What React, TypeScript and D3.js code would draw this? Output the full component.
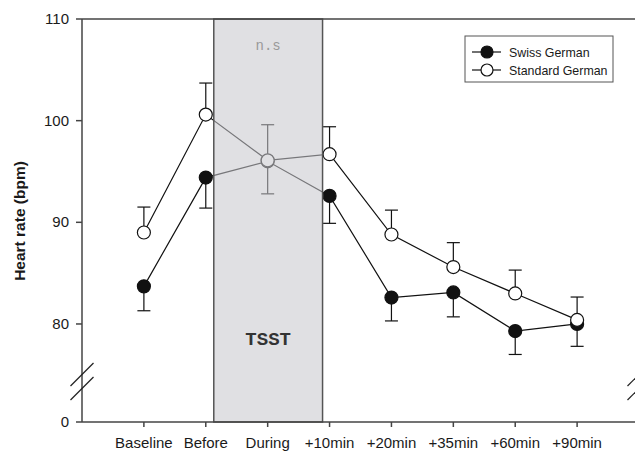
import * as d3 from 'd3'

const categories = ['Baseline', 'Before', 'During', '+10min', '+20min', '+35min', '+60min', '+90min']
const swissGerman = [83.7, 94.4, 96.0, 92.6, 82.6, 83.1, 79.3, 80.0]
const swissErr = [2.4, 3.0, 3.2, 2.7, 2.3, 2.4, 2.3, 2.2]
const standardGerman = [89.0, 100.6, 96.1, 96.7, 88.8, 85.6, 83.0, 80.4]
const standardErr = [2.5, 3.1, 3.5, 2.7, 2.4, 2.4, 2.3, 2.25]
const yTicks = [0, 80, 90, 100, 110]
const seriesNames = ['Swiss German', 'Standard German']

const W = 635
const H = 452
const left = 82
const top = 19
const bottom = 422

export default function App() {
  const x = d3.scalePoint<string>().domain(categories).range([left, 639]).padding(1)
  // broken axis: 0 sits at the bottom, 75..110 linear above the break
  const y = d3.scaleLinear().domain([0, 75, 110]).range([bottom, 374.8, top])

  const line = d3.line<number>()
    .x((_, i) => x(categories[i])!)
    .y((d) => y(d))

  const rectX0 = x('Before')! + 8
  const rectX1 = x('+10min')! - 7
  const axisColor = '#444'
  const r = 6.5

  const errBars = (vals: number[], errs: number[], dir: number) =>
    vals.map((v, i) => {
      const cx = x(categories[i])!
      const y2 = y(v + dir * errs[i])
      return (
        <g key={i} stroke="#111" strokeWidth={1.2}>
          <line x1={cx} x2={cx} y1={y(v)} y2={y2} />
          <line x1={cx - 6.5} x2={cx + 6.5} y1={y2} y2={y2} />
        </g>
      )
    })

  const breakMarks = (cx: number) =>
    [374.5, 388.5].map((cy) => (
      <line key={cy} x1={cx - 11.5} x2={cx + 11.5} y1={cy + 11.5} y2={cy - 11.5} stroke="#222" strokeWidth={1.2} />
    ))

  return (
    <svg width={W} height={H} style={{ position: 'absolute', left: 0, top: 0, fontFamily: 'Liberation Sans, Arial, sans-serif' }}>
      <rect width={W} height={H} fill="#fff" />

      {/* series */}
      <path d={line(swissGerman)!} fill="none" stroke="#111" strokeWidth={1.2} />
      <path d={line(standardGerman)!} fill="none" stroke="#111" strokeWidth={1.2} />
      {errBars(swissGerman, swissErr, -1)}
      {errBars(standardGerman, standardErr, 1)}
      {swissGerman.map((v, i) => (
        <circle key={'s' + i} cx={x(categories[i])} cy={y(v)} r={r} fill="#111" stroke="#111" strokeWidth={1.2} />
      ))}
      {standardGerman.map((v, i) => (
        <circle key={'t' + i} cx={x(categories[i])} cy={y(v)} r={r} fill="#fff" stroke="#111" strokeWidth={1.2} />
      ))}

      {/* TSST shaded period */}
      <rect x={rectX0} y={top} width={rectX1 - rectX0} height={bottom - top} fill="rgb(200,200,205)" fillOpacity={0.56} />
      <rect x={rectX0} y={top} width={rectX1 - rectX0} height={bottom - top} fill="none" stroke="#555" strokeWidth={1.5} />
      <text x={(rectX0 + rectX1) / 2} y={50} textAnchor="middle" fontFamily="Liberation Mono, Courier New, monospace" fontSize={14} fill="#999">n.s</text>
      <text x={(rectX0 + rectX1) / 2} y={345} textAnchor="middle" fontFamily="Liberation Mono, Courier New, monospace" fontWeight="bold" fontSize={19} fill="#333">TSST</text>

      {/* axes */}
      <line x1={left} x2={W} y1={top} y2={top} stroke={axisColor} strokeWidth={1.5} />
      <line x1={left} x2={W} y1={bottom} y2={bottom} stroke={axisColor} strokeWidth={1.5} />
      <line x1={left} x2={left} y1={top} y2={bottom} stroke={axisColor} strokeWidth={1.5} />
      {yTicks.map((t) => (
        <g key={t}>
          <line x1={left - 6} x2={left} y1={y(t)} y2={y(t)} stroke={axisColor} strokeWidth={1.5} />
          <text x={left - 13} y={y(t) + 5} textAnchor="end" fontSize={15} fill="#1a1a1a">{t}</text>
        </g>
      ))}
      {categories.map((c) => (
        <g key={c}>
          <line x1={x(c)} x2={x(c)} y1={bottom} y2={bottom + 5} stroke={axisColor} strokeWidth={1.5} />
          <text x={x(c)} y={448} textAnchor="middle" fontSize={15} fill="#1a1a1a">{c}</text>
        </g>
      ))}
      {breakMarks(left)}
      {breakMarks(639)}
      <text transform="translate(25,221) rotate(-90)" textAnchor="middle" fontWeight="bold" fontSize={15.5} fill="#1a1a1a">Heart rate (bpm)</text>

      {/* legend */}
      <rect x={465} y={36} width={148} height={46} fill="#fff" stroke="#555" strokeWidth={1} />
      {seriesNames.map((n, i) => {
        const ly = 52 + i * 18
        return (
          <g key={n}>
            <line x1={472} x2={501} y1={ly} y2={ly} stroke="#111" strokeWidth={1.2} />
            <circle cx={487} cy={ly} r={6} fill={i === 0 ? '#111' : '#fff'} stroke="#111" strokeWidth={1.2} />
            <text x={509} y={ly + 4.5} fontSize={12.4} fill="#1a1a1a">{n}</text>
          </g>
        )
      })}
    </svg>
  )
}
